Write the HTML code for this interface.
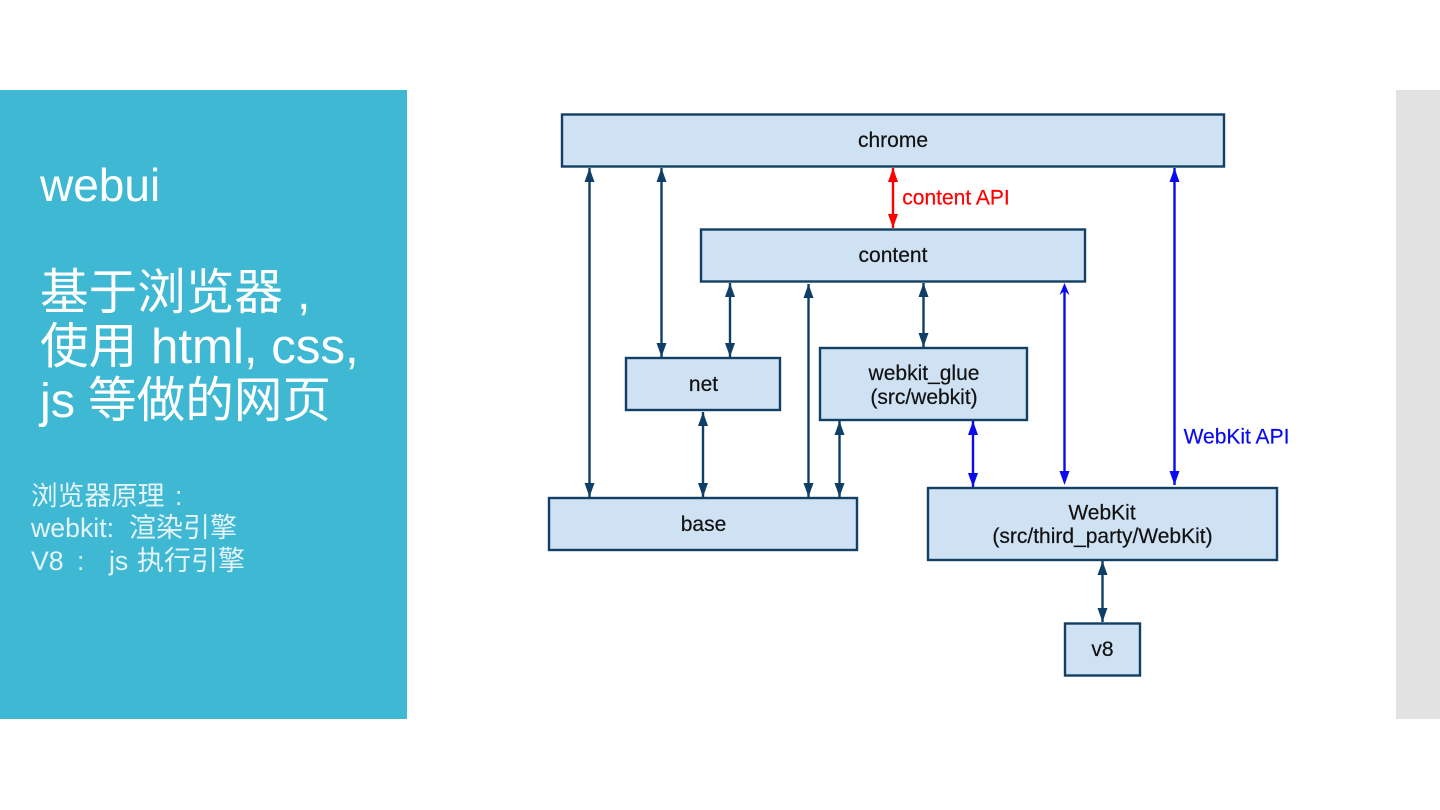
<!DOCTYPE html>
<html><head><meta charset="utf-8"><style>
html,body{margin:0;padding:0;background:#fff;width:1440px;height:810px;overflow:hidden}
svg{display:block}
text{white-space:pre}
.h{font-family:"Liberation Sans","WenQuanYi Zen Hei",sans-serif;fill:#fff;font-size:48.6px}
.s{font-family:"Liberation Sans","WenQuanYi Zen Hei",sans-serif;fill:#e4f4f9;font-size:26.7px}
.b{fill:#cfe2f3;stroke:#123f63;stroke-width:2.4}
.t{font-family:"Liberation Sans",sans-serif;font-size:21px;fill:#111;stroke:#111;stroke-width:.2;text-anchor:middle}
.n{stroke:#0f3f66;stroke-width:2.4;fill:none;marker-start:url(#an);marker-end:url(#an)}
.bl{stroke:#0a0aee;stroke-width:2.4;fill:none;marker-start:url(#ab);marker-end:url(#ab)}
.r{stroke:#f00;stroke-width:2.4;fill:none;marker-start:url(#ar);marker-end:url(#ar)}
.d{filter:blur(.35px)}
</style></head><body>
<svg width="1440" height="810" viewBox="0 0 1440 810" xmlns="http://www.w3.org/2000/svg">
<defs>
<marker id="an" markerUnits="userSpaceOnUse" markerWidth="14" markerHeight="10" refX="14" refY="5" orient="auto-start-reverse"><path d="M0 0L14 5L0 10Z" fill="#0f3f66"/></marker>
<marker id="ab" markerUnits="userSpaceOnUse" markerWidth="14" markerHeight="10" refX="14" refY="5" orient="auto-start-reverse"><path d="M0 0L14 5L0 10Z" fill="#0a0aee"/></marker>
<marker id="ar" markerUnits="userSpaceOnUse" markerWidth="14" markerHeight="10" refX="14" refY="5" orient="auto-start-reverse"><path d="M0 0L14 5L0 10Z" fill="#f00"/></marker>
</defs>
<rect x="0" y="90" width="407" height="629" fill="#3fb8d3"/>
<rect x="1396" y="90" width="44" height="629" fill="#e2e2e2"/>
<text class="h" x="40" y="201" style="font-size:46px">webui</text>
<text class="h" x="40" y="309">基于浏览器<tspan x="297">,</tspan></text>
<text class="h" x="40" y="363">使用<tspan x="151" style="font-size:49.2px">html, css,</tspan></text>
<text class="h" x="40" y="417">js<tspan x="88">等做的网页</tspan></text>
<text class="s" x="31" y="505">浏览器原理<tspan x="175">:</tspan></text>
<text class="s" x="31" y="537">webkit:<tspan x="129" style="font-size:27px">渲染引擎</tspan></text>
<text class="s" x="31" y="570">V8<tspan x="77">:</tspan><tspan x="109">js</tspan><tspan x="137" style="font-size:27px">执行引擎</tspan></text>

<g class="d">
<line class="n" x1="589.500" y1="168" x2="589.500" y2="497"/>
<line class="n" x1="661.500" y1="168" x2="661.500" y2="357"/>
<line class="r" x1="893" y1="168" x2="893" y2="228"/>
<line class="n" x1="730" y1="283" x2="730" y2="357"/>
<line class="n" x1="808.500" y1="284" x2="808.500" y2="497"/>
<line class="n" x1="923.500" y1="283" x2="923.500" y2="347"/>
<line class="n" x1="703" y1="412" x2="703" y2="497"/>
<line class="n" x1="839.500" y1="421" x2="839.500" y2="497"/>
<line class="bl" x1="973" y1="421" x2="973" y2="487"/>
<line x1="1064.500" y1="290" x2="1064.500" y2="471" stroke="#0a0aee" stroke-width="2.4"/>
<path d="M1064.500 283L1069.500 295L1064.500 291L1059.500 295Z" fill="#0a0aee"/>
<path d="M1059.500 471L1069.500 471L1064.500 485Z" fill="#0a0aee"/>
<line class="bl" x1="1174.500" y1="168" x2="1174.500" y2="485"/>
<line class="n" x1="1102.500" y1="561" x2="1102.500" y2="622"/>

<rect class="b" x="562" y="114.500" width="662" height="52"/>
<rect class="b" x="701" y="229.500" width="384" height="52"/>
<rect class="b" x="626" y="358" width="154" height="52"/>
<rect class="b" x="820" y="348" width="207" height="72"/>
<rect class="b" x="549" y="498" width="308" height="52"/>
<rect class="b" x="928" y="488" width="349" height="72"/>
<rect class="b" x="1065" y="623.500" width="75" height="52"/>

<text class="t" x="893" y="147">chrome</text>
<text class="t" x="893" y="262">content</text>
<text class="t" x="703.500" y="391">net</text>
<text class="t" x="924" y="380">webkit_glue</text>
<text class="t" x="924" y="404">(src/webkit)</text>
<text class="t" x="703.500" y="531">base</text>
<text class="t" x="1102" y="519.500">WebKit</text>
<text class="t" x="1102.500" y="543">(src/third_party/WebKit)</text>
<text class="t" x="1102.500" y="656">v8</text>
<text class="t" x="956" y="204.500" style="fill:#f00;stroke:#f00">content API</text>
<text class="t" x="1236.500" y="443.500" style="fill:#0a0aee;stroke:#0a0aee">WebKit API</text>
</g>
</svg>
</body></html>
